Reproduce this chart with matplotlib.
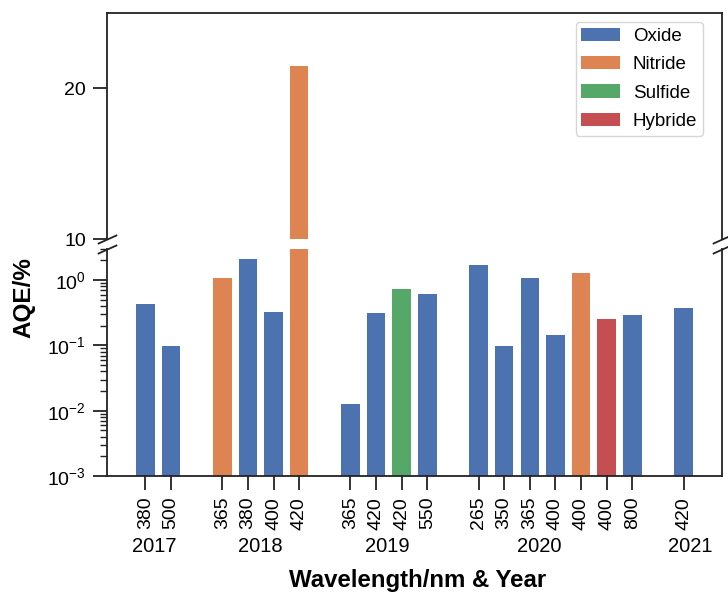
import numpy as np
import matplotlib
matplotlib.use("Agg")
import matplotlib.pyplot as plt
from matplotlib.patches import Patch
from matplotlib.transforms import blended_transform_factory

plt.rcParams['font.family'] = ['Liberation Sans', 'DejaVu Sans']
plt.rcParams['mathtext.fontset'] = 'custom'
plt.rcParams['mathtext.rm'] = 'Liberation Sans'
plt.rcParams['mathtext.it'] = 'Liberation Sans:italic'
plt.rcParams['mathtext.bf'] = 'Liberation Sans:bold'
plt.rcParams['mathtext.default'] = 'regular'

# ---- data -------------------------------------------------------------
years = ['2017', '2017',
         '2018', '2018', '2018', '2018',
         '2019', '2019', '2019', '2019',
         '2020', '2020', '2020', '2020', '2020', '2020', '2020',
         '2021']
wavelengths = ['380', '500',
               '365', '380', '400', '420',
               '365', '420', '420', '550',
               '265', '350', '365', '400', '400', '400', '800',
               '420']
materials = ['Oxide', 'Oxide',
             'Nitride', 'Oxide', 'Oxide', 'Nitride',
             'Oxide', 'Oxide', 'Sulfide', 'Oxide',
             'Oxide', 'Oxide', 'Oxide', 'Oxide', 'Nitride', 'Hybride', 'Oxide',
             'Oxide']
aqe = [0.43, 0.098,
       1.09, 2.08, 0.32, 21.5,
       0.0125, 0.31, 0.74, 0.62,
       1.73, 0.098, 1.09, 0.145, 1.27, 0.25, 0.29,
       0.37]

year_labels = ['2017', '2018', '2019', '2020', '2021']
year_label_pos = [0.35, 4.5, 9.45, 15.35, 21.25]

material_order = ['Oxide', 'Nitride', 'Sulfide', 'Hybride']
material_colors = {'Oxide': '#4C72B0', 'Nitride': '#DD8452',
                   'Sulfide': '#55A868', 'Hybride': '#C44E52'}

# ---- bar positions: consecutive within a year, one empty slot between years
pos = []
x = 0
prev = None
for y in years:
    if prev is not None and y != prev:
        x += 1
    pos.append(x)
    x += 1
    prev = y
pos = np.array(pos, dtype=float)
colors = [material_colors[m] for m in materials]

# ---- figure -----------------------------------------------------------
W, H = 728, 594
fig = plt.figure(figsize=(W / 100, H / 100), dpi=100)

def px_axes(left, top, right, bottom):
    return fig.add_axes([left / W, 1 - bottom / H, (right - left) / W, (bottom - top) / H])

ax_top = px_axes(107, 13, 722, 239)
ax_bot = px_axes(107, 249, 722, 476)

bar_w = 0.72
for ax in (ax_top, ax_bot):
    ax.bar(pos, aqe, width=bar_w, color=colors, edgecolor='none')
    ax.set_xlim(-1.5, 22.5)
    for s in ax.spines.values():
        s.set_linewidth(1.3)
        s.set_color('#222222')
    ax.tick_params(axis='both', which='major', length=10, width=1.3,
                   labelsize=14, pad=5, color='#222222')
    ax.tick_params(axis='y', which='minor', length=5, width=1.0, color='#222222')

# upper panel: linear scale for the large value
ax_top.set_ylim(10, 25)
ax_top.set_yticks([10, 20])
ax_top.spines['bottom'].set_visible(False)
ax_top.tick_params(axis='x', which='both', bottom=False, labelbottom=False)

# lower panel: log scale
ax_bot.set_yscale('log')
ax_bot.set_ylim(1e-3, 3)
ax_bot.spines['top'].set_visible(False)
ax_bot.set_xticks(pos)
ax_bot.set_xticklabels(wavelengths, rotation=90)

# break marks
d = 0.45
kw = dict(marker=[(-1, -d), (1, d)], markersize=14, linestyle='none',
          color='#222222', mec='#222222', mew=1.3, clip_on=False)
ax_top.plot([0, 1], [0, 0], transform=ax_top.transAxes, **kw)
ax_bot.plot([0, 1], [1, 1], transform=ax_bot.transAxes, **kw)

# year labels under the wavelength ticks
trans = blended_transform_factory(ax_bot.transData, fig.transFigure)
for lab, xp in zip(year_labels, year_label_pos):
    ax_bot.text(xp, 1 - 547 / H, lab, transform=trans, ha='center', va='center',
                fontsize=14.5)

# axis titles
fig.text(24 / W, 1 - 298 / H, 'AQE/%', rotation=90, ha='center', va='center',
         fontsize=17.5, fontweight='bold')
fig.text(418 / W, 1 - 581 / H, 'Wavelength/nm & Year', ha='center', va='center',
         fontsize=17.3, fontweight='bold')

# legend
handles = [Patch(facecolor=material_colors[m], edgecolor='none', label=m)
           for m in material_order]
ax_top.legend(handles=handles, loc='upper right',
              bbox_to_anchor=(0.969, 0.96), borderaxespad=0,
              fontsize=13.5, handlelength=2.05, handletextpad=0.7,
              borderpad=0.3, labelspacing=0.6,
              frameon=True, edgecolor='0.8')

fig.savefig('out.png', dpi=100)
